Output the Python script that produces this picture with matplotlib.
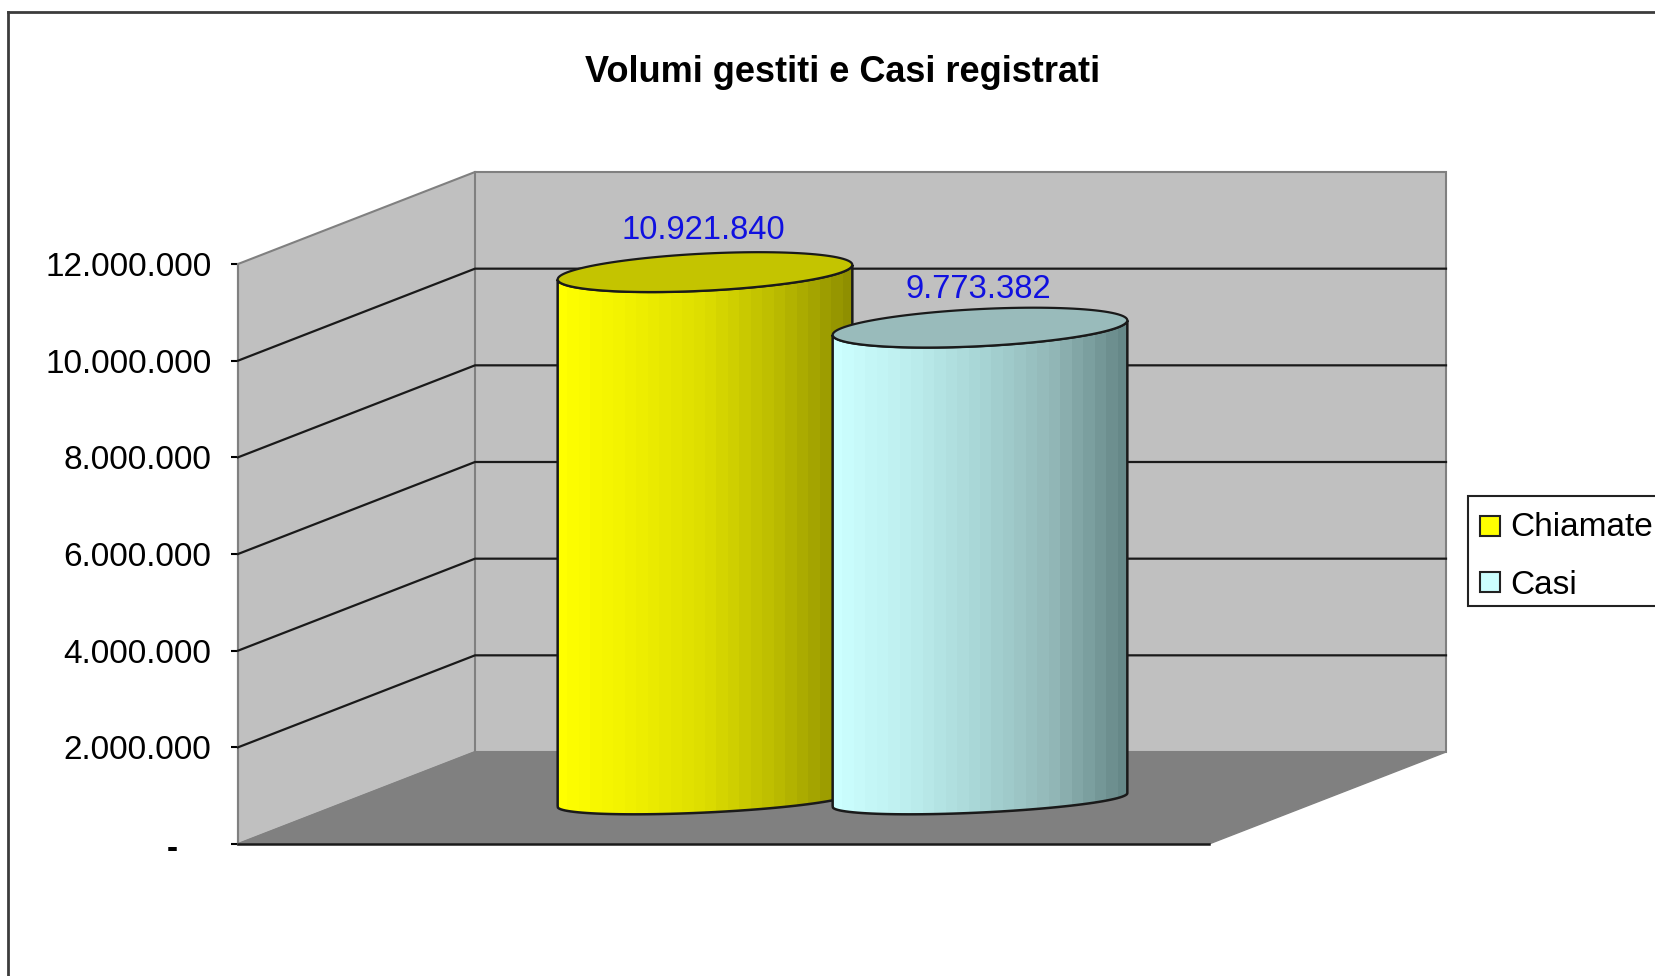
import numpy as np
import matplotlib
matplotlib.use("Agg")
import matplotlib.pyplot as plt
from matplotlib.path import Path
from matplotlib.patches import PathPatch, Polygon, Rectangle
from matplotlib.colors import LinearSegmentedColormap
from matplotlib.transforms import ScaledTranslation

plt.rcParams['font.family'] = ['Liberation Sans', 'DejaVu Sans']

# data
title = "Volumi gestiti e Casi registrati"
series = ["Chiamate", "Casi"]
values = [10921840, 9773382]
value_labels = ["10.921.840", "9.773.382"]
ticks = [0, 2000000, 4000000, 6000000, 8000000, 10000000, 12000000]
tick_labels = ["-", "2.000.000", "4.000.000", "6.000.000", "8.000.000", "10.000.000", "12.000.000"]

swatch_colors = ["#FFFF00", "#CCFFFF"]
cap_colors = ["#C4C400", "#99BBBB"]
shades = [["#FFFF00", "#F0F000", "#DDDD00", "#BBBB00", "#8F8F00"],
          ["#CCFFFF", "#BDEEEE", "#A8D6D6", "#93B8B8", "#668888"]]

W, H = 1656, 976
fig = plt.figure(figsize=(W / 100, H / 100), dpi=100, facecolor="white")

# front wall of the box in pixels, y axis is the real value scale
left, right, zero_y, top_y = 238, 1209, 844, 264
ax = fig.add_axes([left / W, 1 - zero_y / H, (right - left) / W, (zero_y - top_y) / H])
ax.set_xlim(left, right)
ax.set_ylim(0, ticks[-1])
ax.patch.set_visible(False)
for name in ["top", "right", "bottom"]:
    ax.spines[name].set_visible(False)
ax.spines["left"].set_color("#808080")
ax.spines["left"].set_linewidth(1.5)
ax.set_xticks([])
ax.set_yticks(ticks)
ax.set_yticklabels(tick_labels, fontsize=24, color="black")
ax.tick_params(axis="y", length=5, width=1.5, color="black", pad=14)

# the dash of the zero sits further left in the original
zero_label = ax.get_yticklabels()[0]
zero_label.set_transform(zero_label.get_transform() + ScaledTranslation(-0.34, -0.02, fig.dpi_scale_trans))
zero_label.set_fontweight("bold")

val_per_px = ticks[-1] / (zero_y - top_y)
depth_x, depth_y = 237, 92 * val_per_px
back_right = right + depth_x

# walls and floor
wall_top = ticks[-1]
ax.add_patch(Polygon([(left, 0), (left + depth_x, depth_y), (back_right, depth_y),
                      (back_right, depth_y + wall_top), (left + depth_x, depth_y + wall_top),
                      (left, wall_top)],
                     closed=True, fc="#C0C0C0", ec="#808080", lw=1.5, clip_on=False, zorder=1))
ax.plot([left + depth_x, left + depth_x], [depth_y, depth_y + wall_top], color="#808080", lw=1.5,
        clip_on=False, zorder=1)
ax.add_patch(Polygon([(left, 0), (right, 0), (back_right, depth_y), (left + depth_x, depth_y)],
                     closed=True, fc="#808080", ec="#808080", clip_on=False, zorder=2))

# grid
for t in ticks[1:-1]:
    ax.plot([left, left + depth_x, back_right], [t, t + depth_y, t + depth_y],
            color="#1A1A1A", lw=1.6, clip_on=False, zorder=3)
ax.plot([left, right], [0, 0], color="#1A1A1A", lw=1.8, clip_on=False, zorder=3)

# cylinders
centres = [705, 980]
label_gaps = [42, 38]
half_w, tilt, minor_x, top_minor, bottom_minor = 147, 6, 10, 19, 13
base_y = 44 * val_per_px
t_r = np.arctan2(minor_x, half_w)
arc = np.linspace(t_r + np.pi, t_r + 2 * np.pi, 60)
ring = np.linspace(0, 2 * np.pi, 120)


def ellipse(theta, cx, level, minor):
    x = cx + half_w * np.cos(theta) + minor_x * np.sin(theta)
    y = level + (tilt * np.cos(theta) + minor * np.sin(theta)) * val_per_px
    return x, y


for i, cx in enumerate(centres):
    top = base_y + values[i]
    xb, yb = ellipse(arc, cx, base_y, bottom_minor)
    xt, yt = ellipse(arc[::-1], cx, top, top_minor)
    body = Path(np.column_stack([np.r_[xb, xt, xb[0]], np.r_[yb, yt, yb[0]]]), closed=False)
    cmap = LinearSegmentedColormap.from_list("shade%d" % i, shades[i], N=26)
    z = 5 + 3 * i
    im = ax.imshow(np.linspace(0, 1, 26).reshape(1, -1), cmap=cmap, aspect="auto", interpolation="nearest",
                   extent=[cx - half_w - 2, cx + half_w + 2, 0, ticks[-1] * 1.1], zorder=z, clip_on=True)
    outline = PathPatch(body, fc="none", ec="#1A1A1A", lw=1.8, clip_on=False, zorder=z + 1)
    ax.add_patch(outline)
    im.set_clip_path(PathPatch(body, transform=ax.transData))
    xc, yc = ellipse(ring, cx, top, top_minor)
    ax.fill(xc, yc, fc=cap_colors[i], ec="#1A1A1A", lw=1.6, clip_on=False, zorder=z + 2)
    ax.text(cx - 2, top + label_gaps[i] * val_per_px, value_labels[i], color="#1010E0", fontsize=23.6,
            ha="center", va="center", zorder=12, clip_on=False)

ax.set_xlim(left, right)
ax.set_ylim(0, ticks[-1])

# title and chart border
fig.text(843 / W, 1 - 72 / H, title, fontsize=26, fontweight="bold", ha="center", va="center")
fig.add_artist(plt.Line2D([8 / W, 8 / W], [0, 1 - 12 / H], color="#3C3C3C", lw=2))
fig.add_artist(plt.Line2D([8 / W, 1], [1 - 12 / H, 1 - 12 / H], color="#3C3C3C", lw=2))

# legend, runs off the right edge like the original
fig.add_artist(Rectangle((1468 / W, 1 - 606 / H), 200 / W, 110 / H, transform=fig.transFigure,
                         fc="white", ec="#222222", lw=1.5))
swatch_y = [526, 582]
legend_y = [527, 585]
for i, name in enumerate(series):
    fig.add_artist(Rectangle((1480 / W, 1 - (swatch_y[i] + 10) / H), 20 / W, 20 / H, transform=fig.transFigure,
                             fc=swatch_colors[i], ec="#222222", lw=1.5))
    fig.text(1510 / W, 1 - legend_y[i] / H, name, fontsize=24, ha="left", va="center")

fig.savefig("out.png", dpi=100, facecolor="white")
